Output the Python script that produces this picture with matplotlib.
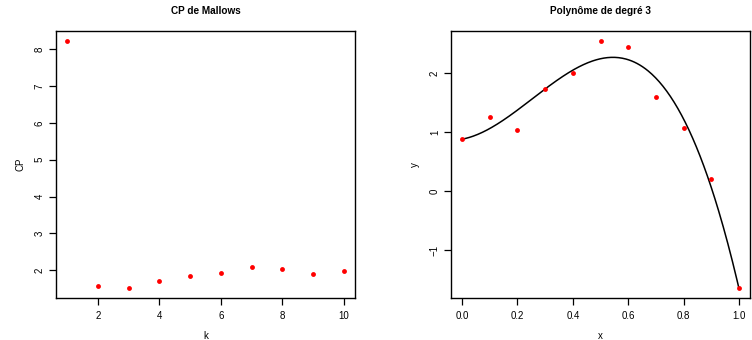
import numpy as np
import matplotlib
matplotlib.use("Agg")
import matplotlib.pyplot as plt

plt.rcParams['font.family'] = ['Liberation Sans', 'DejaVu Sans']

# Left panel: Mallows CP
k = [1, 2, 3, 4, 5, 6, 7, 8, 9, 10]
cp = [8.23, 1.57, 1.51, 1.69, 1.85, 1.91, 2.09, 2.03, 1.89, 1.98]
k_ticks = [2, 4, 6, 8, 10]
cp_ticks = [2, 3, 4, 5, 6, 7, 8]

# Right panel: data + cubic fit
x = [0.0, 0.1, 0.2, 0.3, 0.4, 0.5, 0.6, 0.7, 0.8, 0.9, 1.0]
y = [0.88, 1.25, 1.03, 1.73, 2.00, 2.54, 2.43, 1.59, 1.07, 0.21, -1.64]
x_ticks = [0.0, 0.2, 0.4, 0.6, 0.8, 1.0]
x_ticklabels = ["0.0", "0.2", "0.4", "0.6", "0.8", "1.0"]
y_ticks = [-1, 0, 1, 2]
y_ticklabels = ["\u22121", "0", "1", "2"]

fig = plt.figure(figsize=(7.52, 3.40), dpi=100)
W, H = 752, 340

def make_ax(x0, x1, y0, y1):
    return fig.add_axes([x0 / W, 1 - y1 / H, (x1 - x0) / W, (y1 - y0) / H])

def rpad(vals, f=0.04):
    lo, hi = min(vals), max(vals)
    d = (hi - lo) * f
    return lo - d, hi + d

def style(ax):
    for s in ax.spines.values():
        s.set_linewidth(1.0)
        s.set_color('black')
    ax.tick_params(direction='out', length=5, width=0.9, labelsize=7, colors='black')
    ax.tick_params(axis='x', pad=4.5)
    ax.tick_params(axis='y', pad=3)
    for lab in ax.get_yticklabels():
        lab.set_rotation(90)
        lab.set_va('center')

ax1 = make_ax(56, 355, 31, 298)
ax1.plot(k, cp, 'o', color='red', markersize=3.5, markeredgewidth=0)
ax1.set_xlim(*rpad(k))
ax1.set_ylim(*rpad(cp))
ax1.set_xticks(k_ticks)
ax1.set_yticks(cp_ticks)
ax1.set_xlabel('k', fontsize=7, labelpad=7)
ax1.set_ylabel('CP', fontsize=7, labelpad=7)
ax1.set_title('CP de Mallows', fontsize=7.2, fontweight='bold', pad=12.5)
style(ax1)

ax2 = make_ax(451, 750, 31, 298)
coef = np.polyfit(x, y, 3)
xs = np.linspace(min(x), max(x), 300)
ax2.plot(xs, np.polyval(coef, xs), color='black', linewidth=1.1)
ax2.plot(x, y, 'o', color='red', markersize=3.5, markeredgewidth=0)
ax2.set_xlim(*rpad(x))
ax2.set_ylim(*rpad(y))
ax2.set_xticks(x_ticks)
ax2.set_xticklabels(x_ticklabels)
ax2.set_yticks(y_ticks)
ax2.set_yticklabels(y_ticklabels)
ax2.set_xlabel('x', fontsize=7, labelpad=7)
ax2.set_ylabel('y', fontsize=7, labelpad=7)
ax2.set_title('Polyn\u00f4me de degr\u00e9 3', fontsize=7.2, fontweight='bold', pad=12.5)
style(ax2)

fig.savefig('out.png', dpi=100)
